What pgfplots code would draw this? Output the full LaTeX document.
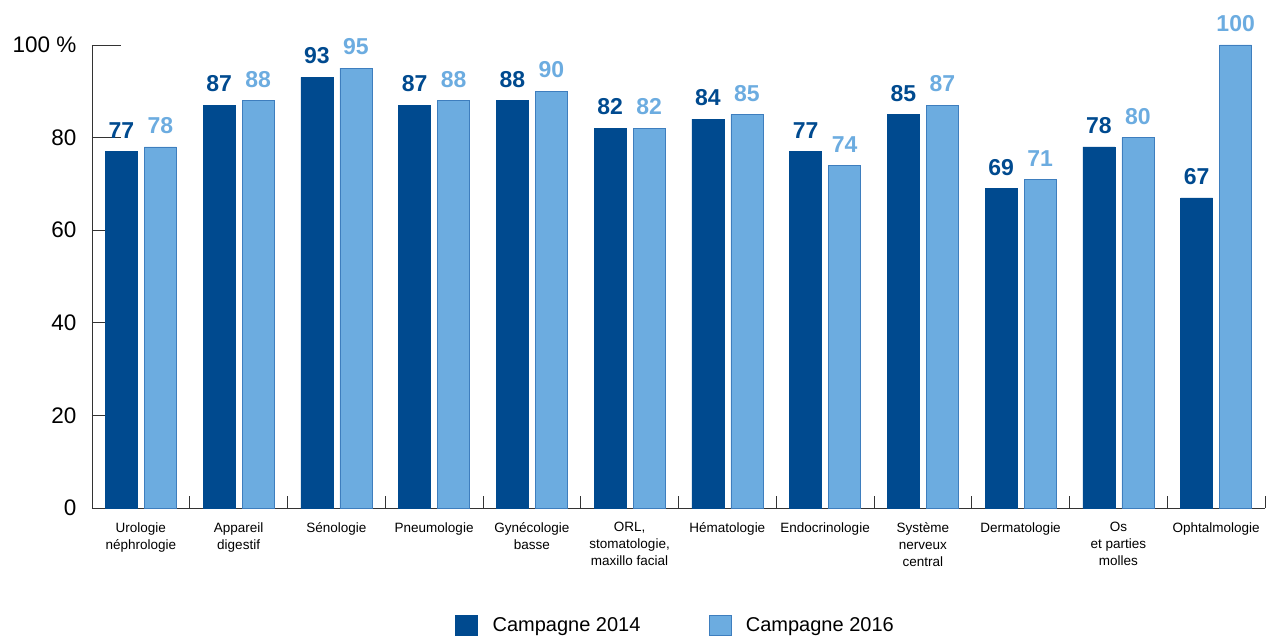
\documentclass[border=0pt]{standalone}
\usepackage{pgfplots}
\pgfplotsset{compat=1.18}
\usepackage{fontspec}
\setmainfont{Liberation Sans}
\definecolor{dark}{RGB}{0,74,143}
\definecolor{light}{RGB}{108,172,224}
\definecolor{lightedge}{RGB}{62,126,190}
\begin{document}
\begin{tikzpicture}
\useasboundingbox (-92bp,-129bp) rectangle (1177bp,508bp);
\begin{axis}[
  at={(0,0)}, anchor=origin,
  scale only axis, width=1173bp, height=463bp,
  xmin=0, xmax=12, ymin=0, ymax=100,
  clip=false,
  axis x line=bottom, axis y line=left,
  axis line style={-, black!80, line width=0.9pt},
  every outer x axis line/.append style={-},
  every outer y axis line/.append style={-},
  ybar, bar width=0.327, 
  xtick={0.5,1.5,...,11.5},
  xticklabels={{Urologie\\néphrologie},{Appareil\\digestif},{Sénologie},{Pneumologie},{Gynécologie\\basse},{ORL,\\stomatologie,\\maxillo facial},{Hématologie},{Endocrinologie},{Système\\nerveux\\central},{Dermatologie},{Os\\et parties\\molles},{Ophtalmologie}},
  xticklabel style={font=\fontsize{13.5bp}{17bp}\selectfont, align=center, anchor=north, yshift=-11bp, text depth=0pt},
  major x tick style={draw=none},
  minor xtick={1,...,12},
  minor x tick style={black!80, line width=0.9pt},
  minor tick length=12bp,
  ytick={0,20,40,60,80,100},
  yticklabels={0,20,40,60,80,100 \%},
  yticklabel style={font=\fontsize{22.5bp}{26bp}\selectfont, anchor=east, xshift=-12bp},
  major y tick style={black!80, line width=0.9pt},
  major tick length=29bp,
  tick align=inside,
  /pgf/number format/assume math mode=true,
  nodes near coords,
  every node near coord/.append style={font=\bfseries\fontsize{23bp}{26bp}\selectfont, anchor=south, inner sep=0pt, yshift=13bp},
  legend style={at={(0.4966,-0.253)}, anchor=center, draw=none, legend columns=2,
    font=\fontsize{20bp}{23bp}\selectfont,
    nodes={inner sep=0pt},
    /tikz/every odd column/.append style={column sep=15bp},
    /tikz/every even column/.append style={column sep=68bp}},
  legend image code/.code={\fill[#1] (0bp,-10bp) rectangle (22bp,10bp);},
]
\addplot[fill=dark, draw=dark, bar shift=-0.2, every node near coord/.append style={text=dark}]
 coordinates {(0.5,77)(1.5,87)(2.5,93)(3.5,87)(4.5,88)(5.5,82)(6.5,84)(7.5,77)(8.5,85)(9.5,69)(10.5,78)(11.5,67)};
\addplot[fill=light, draw=lightedge, bar shift=0.2, every node near coord/.append style={text=light}]
 coordinates {(0.5,78)(1.5,88)(2.5,95)(3.5,88)(4.5,90)(5.5,82)(6.5,85)(7.5,74)(8.5,87)(9.5,71)(10.5,80)(11.5,100)};
\legend{Campagne 2014, Campagne 2016}
\end{axis}
\end{tikzpicture}
\end{document}
